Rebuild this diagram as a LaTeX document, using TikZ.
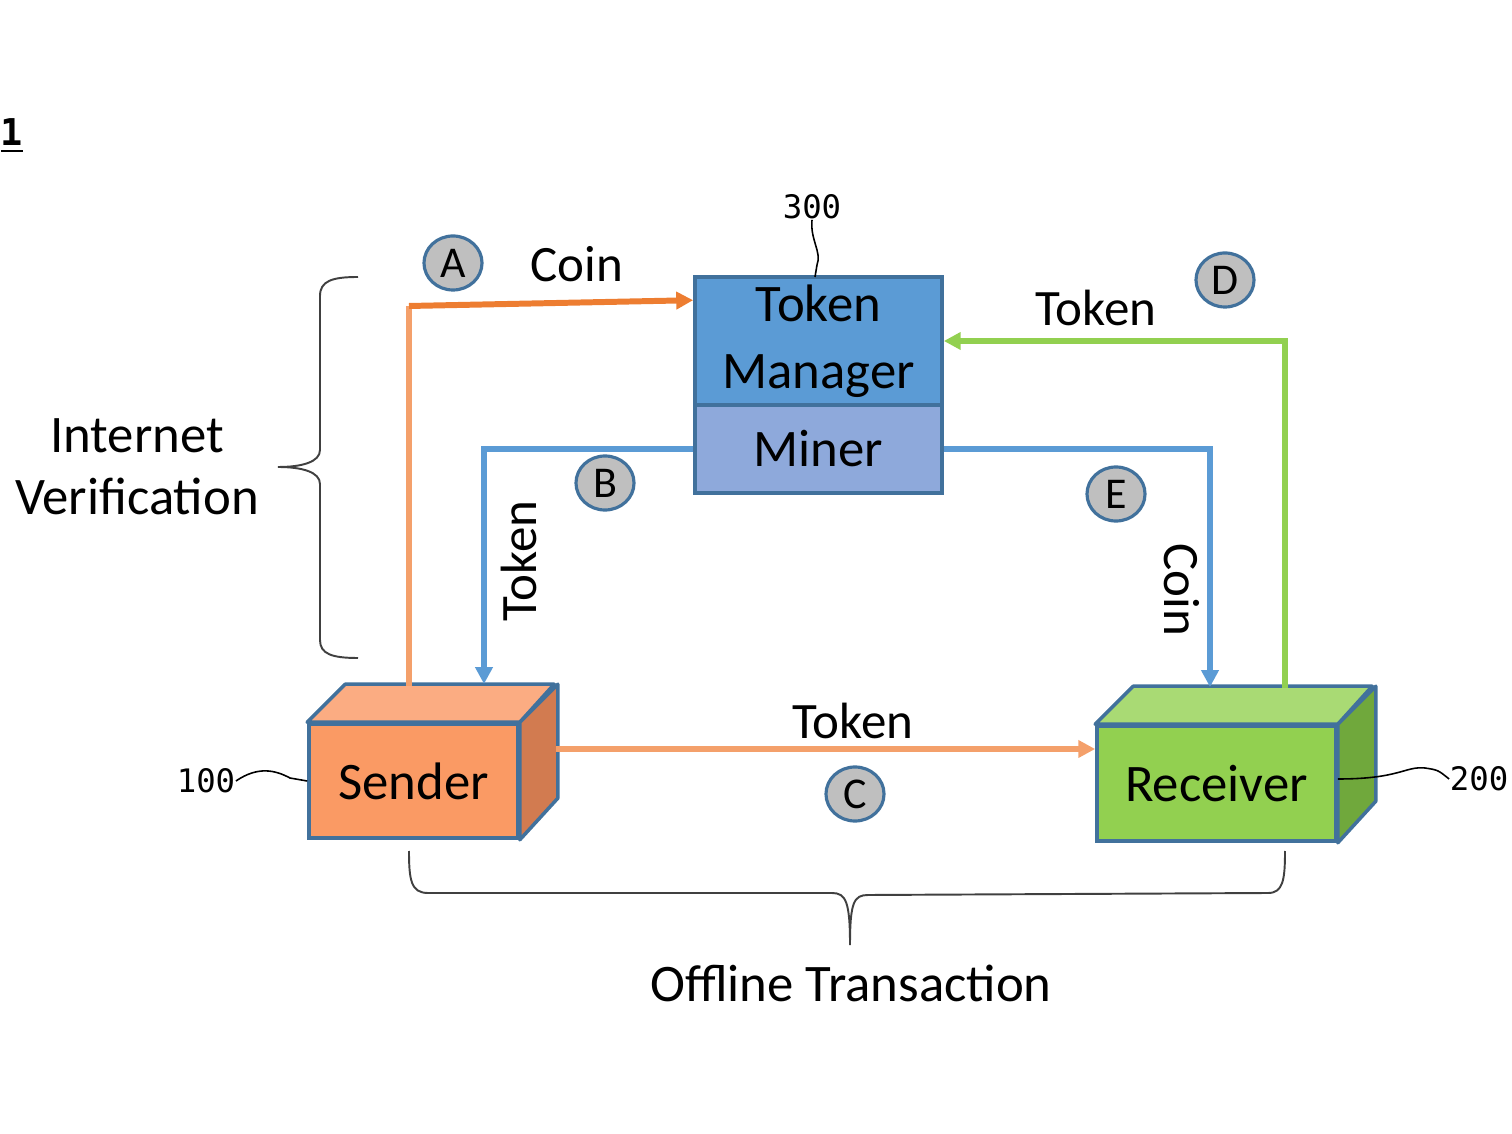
\documentclass[tikz,border=0pt]{standalone}
\usepackage{fontspec}
\setmainfont{Carlito}
\setmonofont{DejaVu Sans Mono}
\usetikzlibrary{arrows.meta,shapes.geometric,calc}
\definecolor{tmblue}{HTML}{5B9BD5}
\definecolor{edgeblue}{HTML}{41719C}
\definecolor{minerblue}{HTML}{8EA9DB}
\definecolor{sfront}{HTML}{FA9A64}
\definecolor{stop}{HTML}{FBAC82}
\definecolor{sside}{HTML}{D27B50}
\definecolor{rfront}{HTML}{92D050}
\definecolor{rtop}{HTML}{A9DA74}
\definecolor{rside}{HTML}{70A83C}
\definecolor{orlight}{HTML}{F4A06B}
\definecolor{ordark}{HTML}{ED7D31}
\definecolor{greenline}{HTML}{92D050}
\definecolor{circfill}{HTML}{BFBFBF}
\definecolor{bracegray}{HTML}{404040}
\tikzset{
  box/.style={draw=edgeblue, line width=1pt, rectangle, inner sep=0pt, align=center,
    font=\fontsize{15}{18}\selectfont},
  face/.style={draw=edgeblue, line width=1pt, line join=round},
  conn/.style={line width=1.7pt},
  tip/.style={-{Triangle[length=4.8pt,width=4.8pt]}},
  lettercirc/.style={ellipse, draw=edgeblue, line width=0.9pt, fill=circfill,
    minimum width=0.58cm, minimum height=0.54cm, inner sep=0pt,
    font=\fontsize{12.5}{14}\selectfont},
  lbl/.style={font=\fontsize{14.5}{17}\selectfont, inner sep=0pt},
  refnum/.style={font=\ttfamily\fontsize{9.2}{11}\selectfont, inner sep=0pt},
  lead/.style={black, line width=0.45pt},
  bracestyle/.style={bracegray, line width=0.55pt}
}
\begin{document}
\begin{tikzpicture}[x=0.01cm,y=-0.01cm]
\useasboundingbox (0,0) rectangle (1512,1134);

% figure number
\node[refnum, font=\ttfamily\bfseries\fontsize{10.5}{13}\selectfont] (fig) at (12,136) {\underline{1}};

% Token manager and miner
\node[box, fill=tmblue, minimum width=2.47cm, minimum height=1.28cm] (tm) at (818.5,341) {Token\\[1pt]Manager};
\node[box, fill=minerblue, minimum width=2.47cm, minimum height=0.88cm] (miner) at (818.5,449) {Miner};

% Sender
\node[box, fill=sfront, minimum width=2.09cm, minimum height=1.14cm, font=\fontsize{15}{18}\selectfont] (s) at (413.5,781) {Sender};
\draw[face, fill=stop] (s.north west) -- ++(38,-38) -- ++(209,0) -- (s.north east) -- cycle;
\draw[face, fill=sside] (s.north east) -- ++(38,-38) -- ++(0,114) -- (s.south east) -- cycle;

% Receiver
\node[box, fill=rfront, minimum width=2.39cm, minimum height=1.15cm, font=\fontsize{15}{18}\selectfont] (r) at (1216.5,783.5) {Receiver};
\draw[face, fill=rtop] (r.north west) -- ++(38,-38) -- ++(239,0) -- (r.north east) -- cycle;
\draw[face, fill=rside] (r.north east) -- ++(38,-38) -- ++(0,115) -- (r.south east) -- cycle;

% connector end points on the boxes
\coordinate (aS) at (409,686);
\coordinate (aC) at (409,306);
\coordinate (aT) at ($(tm.north west)+(0,25)$);
\coordinate (bS) at (484,684);
\coordinate (eR) at (1210,687);
\coordinate (dR) at (1285,688);
\coordinate (cS) at (556,749);
\coordinate (cR) at (r.west |- cS);

% A: coin sender -> token manager
\draw[conn, orlight] (aS) -- (aC);
\draw[conn, tip, ordark] (aC) -- (aT);
% B: token miner -> sender
\draw[conn, tip, tmblue] (miner.west) -| (bS);
% E: coin miner -> receiver
\draw[conn, tip, tmblue] (miner.east) -| (eR);
% D: token receiver -> token manager
\draw[conn, tip, greenline] (dR) |- (tm.east);
% C: token sender -> receiver
\draw[conn, tip, orlight] (cS) -- (cR);

% connector labels
\node[lettercirc] (cA) at (453,263) {A};
\node[lbl] (lA) at (577,264) {Coin};
\node[lettercirc] (cB) at (605,483) {B};
\node[lbl, rotate=90] (lB) at (519,561) {Token};
\node[lettercirc] (cCc) at (855,794) {C};
\node[lbl] (lC) at (853,721) {Token};
\node[lettercirc] (cD) at (1225,280) {D};
\node[lbl] (lD) at (1096,308) {Token};
\node[lettercirc] (cE) at (1116,494) {E};
\node[lbl, rotate=-90] (lE) at (1182,590) {Coin};

% reference numerals
\node[refnum] (n300) at (812,207) {300};
\node[refnum] (n100) at (206,781) {100};
\node[refnum] (n200) at (1479,779) {200};
\draw[lead] (n300.south) .. controls (810,240) and (822,252) .. (817,265) -- (815,277);
\draw[lead] (n100.east) .. controls (258,766) and (275,770) .. (290,778) -- (s.west |- 0,781);
\draw[lead] (r.east |- 0,779) .. controls (1400,779) and (1405,766) .. (1425,768) .. controls (1438,770) .. (n200.west);

% braces
\draw[bracestyle] (358,277) .. controls (332,277) and (320,281) .. (320,296) -- (320,450)
  .. controls (320,462) and (302,467) .. (278,467)
  .. controls (302,467) and (320,472) .. (320,484) -- (320,640)
  .. controls (320,654) and (332,658) .. (358,658);
\node[lbl, align=center, font=\fontsize{15}{17.6}\selectfont] (iv) at (137,467) {Internet\\Verification};

\draw[bracestyle] (409,851) .. controls (409,880) and (411,893) .. (428,893) -- (832,893)
  .. controls (846,893) and (850,902) .. (850,945)
  .. controls (850,902) and (854,895) .. (868,895) -- (1268,893)
  .. controls (1283,893) and (1285,880) .. (1285,851);
\node[lbl, font=\fontsize{15}{18}\selectfont] (ot) at (851,983) {Offline Transaction};
\end{tikzpicture}
\end{document}
